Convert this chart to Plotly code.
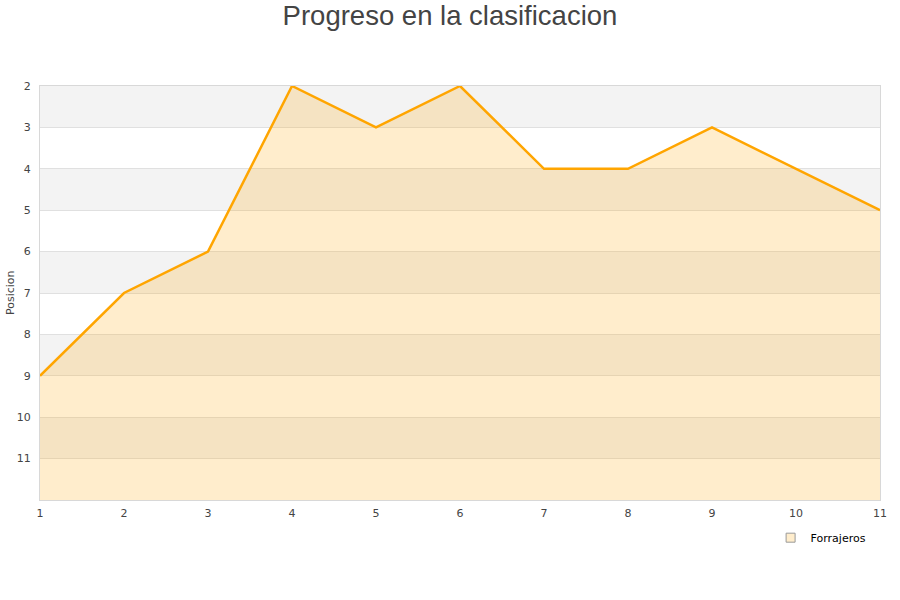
import plotly.graph_objects as go

jornadas = [1, 2, 3, 4, 5, 6, 7, 8, 9, 10, 11]
posiciones = [9, 7, 6, 2, 3, 2, 4, 4, 3, 4, 5]
y_ticks = [2, 3, 4, 5, 6, 7, 8, 9, 10, 11]
team = "Forrajeros"

fig = go.Figure()
fig.add_trace(go.Scatter(x=jornadas, y=[12] * len(jornadas), mode="lines",
                         line=dict(width=0), showlegend=False, hoverinfo="skip"))
fig.add_trace(go.Scatter(x=jornadas, y=posiciones, mode="lines", name=team,
                         line=dict(color="#ffa500", width=2.5), showlegend=False,
                         fill="tonexty", fillcolor="rgba(255,165,0,0.2)"))
fig.add_trace(go.Scatter(x=[None], y=[None], mode="markers", name=team,
                         marker=dict(symbol="square", size=9, color="#ffedcc",
                                     line=dict(color="#999999", width=1))))

shapes = []
for b in [2, 4, 6, 8, 10]:
    shapes.append(dict(type="rect", xref="paper", yref="y", x0=0, x1=1, y0=b, y1=b + 1,
                       fillcolor="#f3f3f3", line=dict(width=0), layer="below"))
fig.update_layout(
    width=900, height=600,
    paper_bgcolor="white", plot_bgcolor="white",
    margin=dict(l=40, r=20, t=86, b=100, autoexpand=False),
    title=dict(text="Progreso en la clasificacion", x=0.5, xanchor="center", y=0.975, yanchor="middle",
               pad=dict(t=0, b=0),
               font=dict(family="Liberation Sans, Arial", size=27.5, color="#444444")),
    shapes=shapes,
    font=dict(family="DejaVu Sans", size=11, color="#444444"),
    xaxis=dict(range=[1, 11], tickvals=jornadas, showgrid=False, zeroline=False, automargin=False,
               showline=True, linecolor="#d8d8d8", mirror=True, ticks="outside", ticklen=3,
               tickcolor="white", tickfont=dict(size=11, color="#444444")),
    yaxis=dict(range=[12, 2], tickvals=y_ticks, showgrid=True, gridcolor="#e0e0e0", automargin=False,
               zeroline=False, showline=True, linecolor="#d8d8d8", mirror=True,
               tickfont=dict(size=11, color="#444444"), ticks="outside", ticklen=6, tickcolor="white"),
    annotations=[dict(text="Posicion", xref="paper", yref="paper", x=-0.0357, y=0.5,
                      xanchor="center", yanchor="middle", textangle=-90, showarrow=False,
                      font=dict(size=11, color="#444444"))],
    legend=dict(x=0.99, y=-0.056, xanchor="right", yanchor="top", orientation="h",
                font=dict(size=11, color="#000000"), bgcolor="rgba(0,0,0,0)",
                itemwidth=30),
    showlegend=True,
)
fig.write_html("out.html", config={"displayModeBar": False},
               post_script="document.body.style.margin='0';")
